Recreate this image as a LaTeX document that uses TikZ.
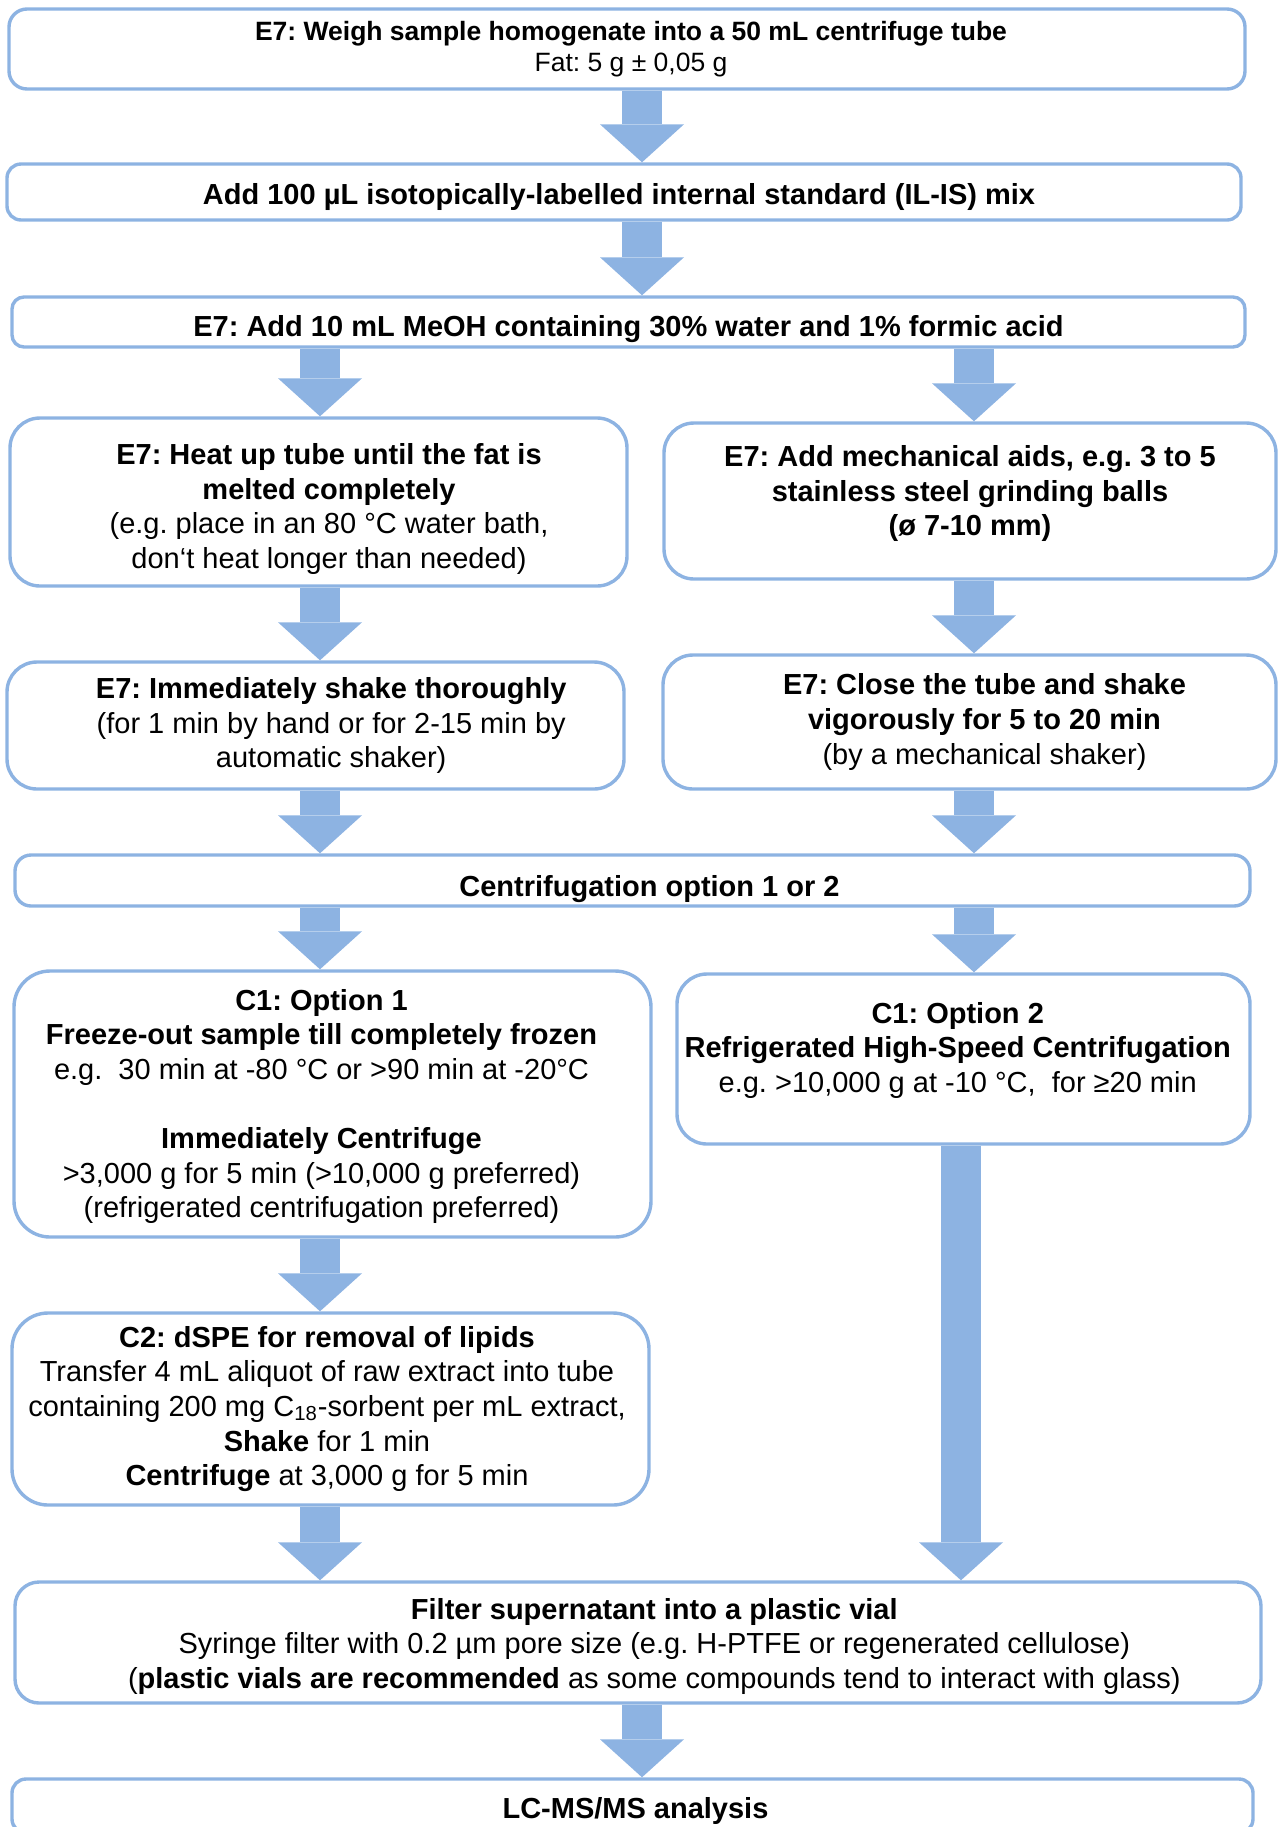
\documentclass[tikz,border=0pt]{standalone}
\usepackage{fontspec}
\setmainfont{Liberation Sans}
\usepackage{xcolor}
\usepackage{tikz}
\usetikzlibrary{arrows.meta}
\definecolor{frame}{RGB}{141,179,226}
\frenchspacing

\begin{document}
\begin{tikzpicture}[x=0.5pt,y=-0.5pt,
  box/.style={draw=frame,line width=1.7pt,rounded corners=#1,fill=white,
              align=center,inner sep=0pt,font=\fontsize{14.5}{17.3}\selectfont},
  box/.default=7pt,
  arr/.style={draw=frame,line width=20pt,
              -{Triangle[width=42pt,length=19pt,line width=0pt]}}
]
\useasboundingbox (0,0) rectangle (1280,1827);

% columns of the arrows
\coordinate (cm) at (642,0);
\coordinate (cl) at (320,0);
\coordinate (cr) at (974,0);
\coordinate (clong) at (961,0);

\node[box=9pt,minimum width=618pt,minimum height=40pt,
      font=\fontsize{13.25}{15.7}\selectfont] (weigh) at (627,49)
  {\hspace*{4pt}\textbf{E7: Weigh sample homogenate into a 50 mL centrifuge tube}\\
   \hspace*{4pt}Fat: 5 g ± 0,05 g};
\node[box,minimum width=617pt,minimum height=28pt] (ilis) at (624,192)
  {\rule{0pt}{15.3pt}\hspace*{-5pt}\textbf{Add 100 µL isotopically-labelled internal standard (IL-IS) mix}};
\node[box=6pt,minimum width=616.5pt,minimum height=25pt] (meoh) at (628.5,322)
  {\rule{0pt}{17.6pt}\textbf{E7: Add 10 mL MeOH containing 30\% water and 1\% formic acid}};
\node[box=15pt,minimum width=308.5pt,minimum height=84pt] (heat) at (318.5,502)
  {\rule{0pt}{17.6pt}\hspace*{10.5pt}\textbf{E7: Heat up tube until the fat is}\\
   \hspace*{10.5pt}\textbf{melted completely}\\
   \hspace*{10.5pt}(e.g. place in an 80 °C water bath,\\
   \hspace*{10.5pt}don‘t heat longer than needed)};
\node[box=15pt,minimum width=306pt,minimum height=78pt] (mech) at (970,501)
  {\textbf{E7: Add mechanical aids, e.g. 3 to 5}\\\textbf{stainless steel grinding balls}\\
   \textbf{(ø 7-10 mm)}\rule[-10.5pt]{0pt}{10.5pt}};
\node[box=15pt,minimum width=308.5pt,minimum height=63.5pt] (shake) at (315.5,725.5)
  {\hspace*{15.7pt}\textbf{E7: Immediately shake thoroughly}\\
   \hspace*{15.7pt}(for 1 min by hand or for 2-15 min by\\
   \hspace*{15.7pt}automatic shaker)};
\node[box=15pt,minimum width=306.5pt,minimum height=67pt] (close) at (969.5,722)
  {\hspace*{15pt}\textbf{E7: Close the tube and shake}\\
   \hspace*{15pt}\textbf{vigorously for 5 to 20 min}\\
   \hspace*{15pt}(by a mechanical shaker)};
\node[box=8pt,minimum width=617.5pt,minimum height=25.5pt] (centr) at (632.5,880.5)
  {\rule{0pt}{18.8pt}\hspace*{17pt}\textbf{Centrifugation option 1 or 2}};
\node[box=18pt,minimum width=318.5pt,minimum height=133pt] (opt1) at (332.5,1104)
  {\rule{0pt}{12.9pt}\hspace*{-11pt}\textbf{C1: Option 1}\\
   \hspace*{-11pt}\textbf{Freeze-out sample till completely frozen}\\
   \hspace*{-11pt}e.g.\ \ 30 min at -80 °C or >90 min at -20°C\\[17.3pt]
   \hspace*{-11pt}\textbf{Immediately Centrifuge}\\
   \hspace*{-11pt}>3,000 g for 5 min (>10,000 g preferred)\\
   \hspace*{-11pt}(refrigerated centrifugation preferred)};
\node[box=15pt,minimum width=286.5pt,minimum height=85pt] (opt2) at (963.5,1059)
  {\hspace*{-5.8pt}\textbf{C1: Option 2}\\
   \hspace*{-5.8pt}\textbf{Refrigerated High-Speed Centrifugation}\\
   \hspace*{-5.8pt}e.g. >10,000 g at -10 °C,\ \ for ≥20 min\rule[-11.6pt]{0pt}{11.6pt}};
\node[box=18pt,minimum width=318.5pt,minimum height=96pt] (dspe) at (330.5,1409)
  {\hspace*{-3.5pt}\textbf{C2: dSPE for removal of lipids}\\
   \hspace*{-3.5pt}Transfer 4 mL aliquot of raw extract into tube\\
   \hspace*{-3.5pt}containing 200 mg C\textsubscript{18}-sorbent per mL extract,\\
   \hspace*{-3.5pt}\textbf{Shake} for 1 min\\
   \hspace*{-3.5pt}\textbf{Centrifuge} at 3,000 g for 5 min};
\node[box=12pt,minimum width=623pt,minimum height=60.5pt] (filter) at (638,1642.5)
  {\rule{0pt}{14.1pt}\hspace*{16.3pt}\textbf{Filter supernatant into a plastic vial}\\
   \hspace*{16.3pt}Syringe filter with 0.2 µm pore size (e.g. H-PTFE or regenerated cellulose)\\
   \hspace*{16.3pt}(\textbf{plastic vials are recommended} as some compounds tend to interact with glass)};
\node[box,minimum width=620.5pt,minimum height=27pt] (lcms) at (632.5,1806)
  {\rule{0pt}{15.3pt}\hspace*{3pt}\textbf{LC-MS/MS analysis}};

\draw[arr] (weigh.south -| cm) -- (ilis.north -| cm);
\draw[arr] (ilis.south -| cm) -- (meoh.north -| cm);
\draw[arr] (meoh.south -| cl) -- (heat.north -| cl);
\draw[arr] (meoh.south -| cr) -- (mech.north -| cr);
\draw[arr] (heat.south -| cl) -- (shake.north -| cl);
\draw[arr] (mech.south -| cr) -- (close.north -| cr);
\draw[arr] (shake.south -| cl) -- (centr.north -| cl);
\draw[arr] (close.south -| cr) -- (centr.north -| cr);
\draw[arr] (centr.south -| cl) -- (opt1.north -| cl);
\draw[arr] (centr.south -| cr) -- (opt2.north -| cr);
\draw[arr] (opt1.south -| cl) -- (dspe.north -| cl);
\draw[arr] (opt2.south -| clong) -- (filter.north -| clong);
\draw[arr] (dspe.south -| cl) -- (filter.north -| cl);
\draw[arr] (filter.south -| cm) -- (lcms.north -| cm);
\end{tikzpicture}
\end{document}
